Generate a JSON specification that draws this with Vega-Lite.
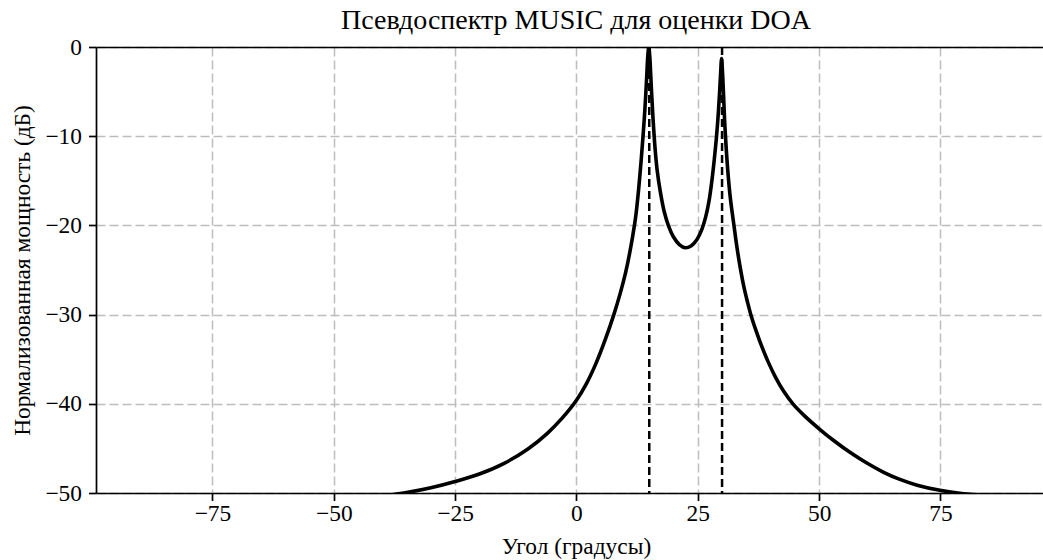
{
  "$schema": "https://vega.github.io/schema/vega-lite/v6.json",
  "width": 947,
  "height": 446,
  "autosize": {"type": "none"},
  "padding": {"left": 96, "top": 47, "right": 0, "bottom": 67},
  "background": "white",
  "config": {
    "view": {"stroke": null},
    "font": "Liberation Serif",
    "axis": {
      "labelFont": "Liberation Serif",
      "titleFont": "Liberation Serif",
      "labelFontSize": 23.4,
      "titleFontSize": 23.4,
      "labelColor": "black",
      "titleColor": "black",
      "titleFontWeight": "normal",
      "domainColor": "black",
      "domainWidth": 1.7,
      "tickColor": "black",
      "tickWidth": 1.7,
      "tickSize": 7.5,
      "gridColor": "#bdbdbd",
      "gridDash": [9, 4],
      "gridWidth": 1.5
    }
  },
  "title": {
    "text": "Псевдоспектр MUSIC для оценки DOA",
    "font": "Liberation Serif",
    "fontSize": 28,
    "fontWeight": "normal",
    "color": "black",
    "anchor": "middle",
    "frame": "group",
    "offset": 10,
    "dx": 6.5,
    "dy": 10
  },
  "datasets": {
    "spectrum": [
      {"angle": -55, "power": -51.3},
      {"angle": -50, "power": -51.0},
      {"angle": -45, "power": -50.7},
      {"angle": -40, "power": -50.35},
      {"angle": -35, "power": -49.95},
      {"angle": -30, "power": -49.42},
      {"angle": -25, "power": -48.72},
      {"angle": -20, "power": -47.87},
      {"angle": -15, "power": -46.7},
      {"angle": -10, "power": -45.07},
      {"angle": -6, "power": -43.31},
      {"angle": -3, "power": -41.64},
      {"angle": 0, "power": -39.6},
      {"angle": 2, "power": -37.8},
      {"angle": 4, "power": -35.5},
      {"angle": 6, "power": -32.7},
      {"angle": 7.7, "power": -30.0},
      {"angle": 9, "power": -27.65},
      {"angle": 10.1, "power": -25.35},
      {"angle": 11, "power": -23.0},
      {"angle": 12, "power": -19.8},
      {"angle": 12.3, "power": -18.6},
      {"angle": 12.8, "power": -16.0},
      {"angle": 13.3, "power": -12.9},
      {"angle": 13.7, "power": -10.1},
      {"angle": 13.9, "power": -8.6},
      {"angle": 14.1, "power": -7.0},
      {"angle": 14.3, "power": -5.1},
      {"angle": 14.5, "power": -3.0},
      {"angle": 14.7, "power": -1.0},
      {"angle": 14.9, "power": 0},
      {"angle": 15.1, "power": -1.0},
      {"angle": 15.3, "power": -3.1},
      {"angle": 15.5, "power": -5.3},
      {"angle": 15.7, "power": -7.3},
      {"angle": 15.9, "power": -9.1},
      {"angle": 16.2, "power": -11.4},
      {"angle": 16.6, "power": -13.7},
      {"angle": 17.3, "power": -16.3},
      {"angle": 18.1, "power": -18.5},
      {"angle": 19.0, "power": -20.1},
      {"angle": 20.0, "power": -21.3},
      {"angle": 21.2, "power": -22.15},
      {"angle": 22.4, "power": -22.5},
      {"angle": 23.6, "power": -22.3},
      {"angle": 24.8, "power": -21.6},
      {"angle": 25.8, "power": -20.5},
      {"angle": 26.6, "power": -19.1},
      {"angle": 27.3, "power": -17.3},
      {"angle": 27.9, "power": -15.0},
      {"angle": 28.4, "power": -12.6},
      {"angle": 28.8, "power": -10.4},
      {"angle": 29.1, "power": -8.4},
      {"angle": 29.3, "power": -6.8},
      {"angle": 29.5, "power": -5.0},
      {"angle": 29.7, "power": -3.0},
      {"angle": 29.9, "power": -1.3},
      {"angle": 30.1, "power": -2.9},
      {"angle": 30.3, "power": -5.3},
      {"angle": 30.5, "power": -7.9},
      {"angle": 30.7, "power": -10.0},
      {"angle": 31.2, "power": -14.0},
      {"angle": 31.7, "power": -16.9},
      {"angle": 32.4, "power": -19.8},
      {"angle": 33.0, "power": -22.2},
      {"angle": 33.7, "power": -24.6},
      {"angle": 34.5, "power": -26.9},
      {"angle": 35.2, "power": -28.5},
      {"angle": 35.9, "power": -29.95},
      {"angle": 37.0, "power": -31.8},
      {"angle": 38.2, "power": -33.6},
      {"angle": 39.5, "power": -35.3},
      {"angle": 41.0, "power": -37.0},
      {"angle": 42.7, "power": -38.6},
      {"angle": 44.6, "power": -40.0},
      {"angle": 47.0, "power": -41.35},
      {"angle": 50.0, "power": -42.8},
      {"angle": 53.0, "power": -44.12},
      {"angle": 56.5, "power": -45.5},
      {"angle": 60.0, "power": -46.7},
      {"angle": 63.3, "power": -47.68},
      {"angle": 66.5, "power": -48.45},
      {"angle": 70.2, "power": -49.12},
      {"angle": 74.9, "power": -49.7},
      {"angle": 79.0, "power": -50.02},
      {"angle": 85.0, "power": -50.3},
      {"angle": 95.0, "power": -50.6}
    ],
    "doa": [
      {"angle": 15},
      {"angle": 30}
    ]
  },
  "layer": [
    {
      "data": {"name": "spectrum"},
      "mark": {"type": "line", "color": "black", "strokeWidth": 3.6, "clip": true, "strokeJoin": "round", "interpolate": "catmull-rom"},
      "encoding": {
        "x": {
          "field": "angle",
          "type": "quantitative",
          "scale": {"domain": [-99, 96.13], "nice": false, "zero": false},
          "axis": {
            "title": "Угол (градусы)",
            "values": [-75, -50, -25, 0, 25, 50, 75],
            "grid": true,
            "labelPadding": 2,
            "titleX": 480,
            "titleY": 60,
            "titleBaseline": "alphabetic",
            "titleAnchor": "middle",
            "labelFlush": false
          }
        },
        "y": {
          "field": "power",
          "type": "quantitative",
          "scale": {"domain": [-50, 0], "nice": false, "zero": false},
          "axis": {
            "title": "Нормализованная мощность (дБ)",
            "values": [-50, -40, -30, -20, -10, 0],
            "grid": true,
            "labelPadding": 7,
            "titleX": -67,
            "titleBaseline": "alphabetic",
            "labelFlush": false
          }
        }
      }
    },
    {
      "data": {"name": "doa"},
      "mark": {"type": "rule", "color": "black", "strokeWidth": 2.5, "strokeDash": [8, 4]},
      "encoding": {
        "x": {
          "field": "angle",
          "type": "quantitative",
          "axis": {
            "orient": "top",
            "labels": false,
            "ticks": false,
            "grid": false,
            "title": null,
            "domain": true
          }
        }
      }
    }
  ],
  "resolve": {"axis": {"x": "independent"}}
}
